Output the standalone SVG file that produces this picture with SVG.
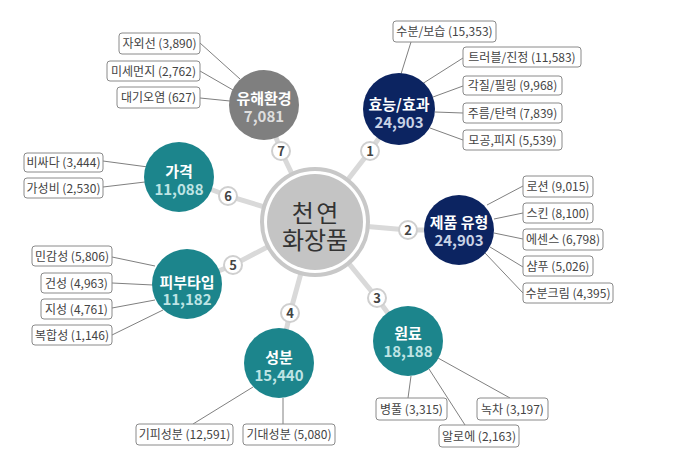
<svg xmlns="http://www.w3.org/2000/svg" width="680" height="465" viewBox="0 0 680 465">
<style>
text{font-family:"Noto Sans CJK KR","Noto Sans",sans-serif;}
.hub{stroke:#d9d9d9;stroke-width:5;fill:none;stroke-linecap:round;}
.leaf{stroke:#808080;stroke-width:1;fill:none;}
.box{fill:#fff;stroke:#8a8a8a;stroke-width:1;}
.bt{font-size:12px;fill:#444;text-anchor:middle;}
.badge{fill:#fff;stroke:#cfcfcf;stroke-width:2;}
.bn{font-size:13px;font-weight:bold;fill:#444;text-anchor:middle;}
.navy{fill:#0c2461;}
.teal{fill:#1c858c;}
.gray{fill:#7f7f7f;}
.nt{font-size:15px;font-weight:bold;fill:#fff;text-anchor:middle;}
.nvn{fill:#c9d3e6;}
.ntn{fill:#bfe4e4;}
.ngn{fill:#dedede;}
</style>
<rect width="680" height="465" fill="#fff"/>
<g id="connectors">
<polyline class="hub" points="315,222 370,151 399,109"/>
<polyline class="hub" points="315,222 408,230 459,230"/>
<polyline class="hub" points="315,222 377,298 408,341"/>
<polyline class="hub" points="315,222 290,313 279,363"/>
<polyline class="hub" points="315,222 233,265 187,284"/>
<polyline class="hub" points="315,222 228,196 179,177"/>
<polyline class="hub" points="315,222 281,151 264,105"/>
<line class="leaf" x1="200" y1="43" x2="240" y2="79"/>
<line class="leaf" x1="200" y1="71" x2="233" y2="90"/>
<line class="leaf" x1="200" y1="98" x2="230" y2="101"/>
<line class="leaf" x1="411" y1="42" x2="401" y2="74"/>
<line class="leaf" x1="463" y1="58" x2="422" y2="84"/>
<line class="leaf" x1="463" y1="86" x2="433" y2="97"/>
<line class="leaf" x1="463" y1="113" x2="435" y2="112"/>
<line class="leaf" x1="463" y1="140" x2="430" y2="128"/>
<line class="leaf" x1="523" y1="186" x2="487" y2="205"/>
<line class="leaf" x1="523" y1="213" x2="494" y2="219"/>
<line class="leaf" x1="523" y1="239" x2="494" y2="233"/>
<line class="leaf" x1="523" y1="267" x2="490" y2="247"/>
<line class="leaf" x1="523" y1="293" x2="485" y2="253"/>
<line class="leaf" x1="103" y1="161" x2="148" y2="167"/>
<line class="leaf" x1="103" y1="187" x2="145" y2="182"/>
<line class="leaf" x1="112" y1="257" x2="155" y2="266"/>
<line class="leaf" x1="112" y1="283" x2="153" y2="285"/>
<line class="leaf" x1="112" y1="308" x2="155" y2="300"/>
<line class="leaf" x1="112" y1="335" x2="163" y2="310"/>
<line class="leaf" x1="193" y1="424" x2="253" y2="387"/>
<line class="leaf" x1="283" y1="424" x2="283" y2="398"/>
<line class="leaf" x1="408" y1="398" x2="411" y2="376"/>
<line class="leaf" x1="510" y1="398" x2="438" y2="358"/>
<line class="leaf" x1="465" y1="425" x2="429" y2="369"/>
</g>
<g id="center">
<circle cx="315" cy="222" r="53" fill="#fff" stroke="#c8c8c8" stroke-width="4"/>
<circle cx="315" cy="222" r="48" fill="#c4c4c4"/>
<text font-size="24" fill="#333" text-anchor="middle"><tspan x="315" y="222" word-spacing="-3">천 연</tspan><tspan x="315" y="249">화장품</tspan></text>
</g>
<g id="badges">
<circle class="badge" cx="370" cy="151" r="9"/><text class="bn" x="370" y="156">1</text>
<circle class="badge" cx="408" cy="230" r="9"/><text class="bn" x="408" y="235">2</text>
<circle class="badge" cx="377" cy="298" r="9"/><text class="bn" x="377" y="303">3</text>
<circle class="badge" cx="290" cy="313" r="9"/><text class="bn" x="290" y="318">4</text>
<circle class="badge" cx="233" cy="265" r="9"/><text class="bn" x="233" y="270">5</text>
<circle class="badge" cx="228" cy="196" r="9"/><text class="bn" x="228" y="201">6</text>
<circle class="badge" cx="281" cy="151" r="9"/><text class="bn" x="281" y="156">7</text>
</g>
<g id="node-efficacy">
<circle class="navy" cx="399" cy="109" r="36"/>
<text class="nt"><tspan x="399" y="110">효능/효과</tspan><tspan class="nvn" x="399" y="128">24,903</tspan></text>
<rect class="box" x="393" y="21" width="103" height="21" rx="3"/><text class="bt" x="444.5" y="36">수분/보습 (15,353)</text>
<rect class="box" x="463" y="47" width="118" height="20" rx="3"/><text class="bt" x="522" y="61.5">트러블/진정 (11,583)</text>
<rect class="box" x="463" y="76" width="99" height="19" rx="3"/><text class="bt" x="512.5" y="90">각질/필링 (9,968)</text>
<rect class="box" x="463" y="103" width="99" height="20" rx="3"/><text class="bt" x="512.5" y="117.5">주름/탄력 (7,839)</text>
<rect class="box" x="463" y="130" width="99" height="20" rx="3"/><text class="bt" x="512.5" y="144.5">모공,피지 (5,539)</text>
</g>
<g id="node-product">
<circle class="navy" cx="459" cy="230" r="35"/>
<text class="nt"><tspan x="459" y="228">제품 유형</tspan><tspan class="nvn" x="459" y="246">24,903</tspan></text>
<rect class="box" x="523" y="176" width="70" height="21" rx="3"/><text class="bt" x="558" y="191">로션 (9,015)</text>
<rect class="box" x="523" y="203" width="70" height="20" rx="3"/><text class="bt" x="558" y="217.5">스킨 (8,100)</text>
<rect class="box" x="523" y="229" width="80" height="21" rx="3"/><text class="bt" x="563" y="244">에센스 (6,798)</text>
<rect class="box" x="523" y="256" width="70" height="20" rx="3"/><text class="bt" x="558" y="270.5">샴푸 (5,026)</text>
<rect class="box" x="523" y="283" width="90" height="20" rx="3"/><text class="bt" x="568" y="297.5">수분크림 (4,395)</text>
</g>
<g id="node-material">
<circle class="teal" cx="408" cy="341" r="35"/>
<text class="nt"><tspan x="408" y="339">원료</tspan><tspan class="ntn" x="408" y="357">18,188</tspan></text>
<rect class="box" x="376" y="398" width="71" height="22" rx="3"/><text class="bt" x="411.5" y="413.5">병풀 (3,315)</text>
<rect class="box" x="477" y="398" width="71" height="22" rx="3"/><text class="bt" x="512.5" y="413.5">녹차 (3,197)</text>
<rect class="box" x="439" y="425" width="80" height="22" rx="3"/><text class="bt" x="479" y="440.5">알로에 (2,163)</text>
</g>
<g id="node-ingredient">
<circle class="teal" cx="279" cy="363" r="35"/>
<text class="nt"><tspan x="279" y="363">성분</tspan><tspan class="ntn" x="279" y="381">15,440</tspan></text>
<rect class="box" x="136" y="424" width="97" height="21" rx="3"/><text class="bt" x="184.5" y="439">기피성분 (12,591)</text>
<rect class="box" x="243" y="424" width="92" height="21" rx="3"/><text class="bt" x="289" y="439">기대성분 (5,080)</text>
</g>
<g id="node-skintype">
<circle class="teal" cx="187" cy="284" r="35"/>
<text class="nt"><tspan x="187" y="288">피부타입</tspan><tspan class="ntn" x="187" y="305">11,182</tspan></text>
<rect class="box" x="32" y="246" width="80" height="20" rx="3"/><text class="bt" x="72" y="260.5">민감성 (5,806)</text>
<rect class="box" x="41" y="273" width="71" height="20" rx="3"/><text class="bt" x="76.5" y="287.5">건성 (4,963)</text>
<rect class="box" x="41" y="299" width="71" height="20" rx="3"/><text class="bt" x="76.5" y="313.5">지성 (4,761)</text>
<rect class="box" x="32" y="325" width="80" height="20" rx="3"/><text class="bt" x="72" y="339.5">복합성 (1,146)</text>
</g>
<g id="node-price">
<circle class="teal" cx="179" cy="177" r="35"/>
<text class="nt"><tspan x="179" y="177">가격</tspan><tspan class="ntn" x="179" y="195">11,088</tspan></text>
<rect class="box" x="24" y="153" width="79" height="19" rx="3"/><text class="bt" x="63.5" y="167">비싸다 (3,444)</text>
<rect class="box" x="24" y="178" width="79" height="20" rx="3"/><text class="bt" x="63.5" y="192.5">가성비 (2,530)</text>
</g>
<g id="node-environment">
<circle class="gray" cx="264" cy="105" r="35"/>
<text class="nt"><tspan x="264" y="104">유해환경</tspan><tspan class="ngn" x="264" y="122">7,081</tspan></text>
<rect class="box" x="119" y="33" width="81" height="21" rx="3"/><text class="bt" x="159.5" y="48">자외선 (3,890)</text>
<rect class="box" x="107" y="61" width="93" height="20" rx="3"/><text class="bt" x="153.5" y="75.5">미세먼지 (2,762)</text>
<rect class="box" x="117" y="87" width="83" height="21" rx="3"/><text class="bt" x="158.5" y="102">대기오염 (627)</text>
</g>
</svg>
